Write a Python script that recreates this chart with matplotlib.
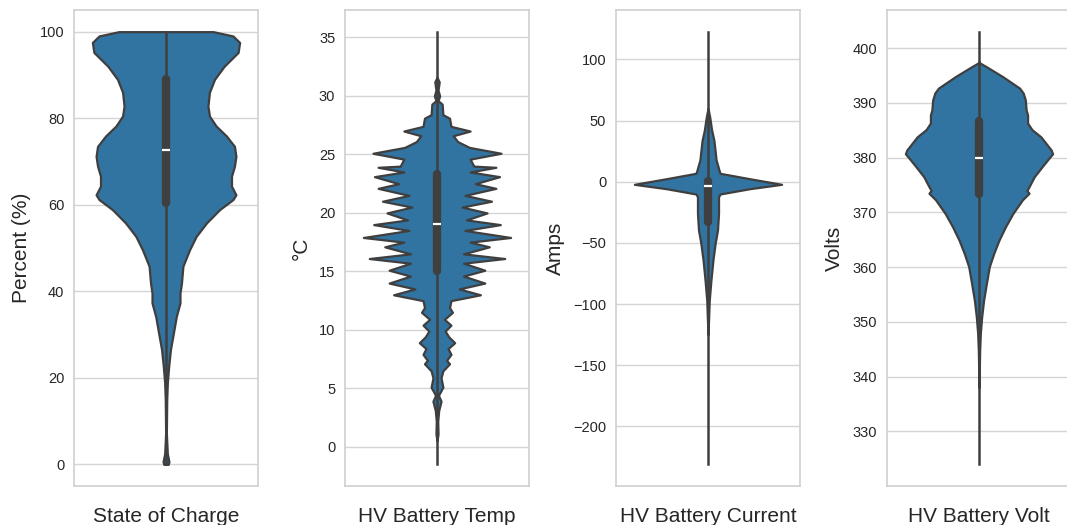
import numpy as np
import matplotlib
matplotlib.use("Agg")
import matplotlib.pyplot as plt

plt.rcParams['font.family'] = ['Liberation Sans', 'DejaVu Sans']

# panel names / axis labels
names = ["State of Charge", "HV Battery Temp", "HV Battery Current", "HV Battery Volt"]
ylabels = ["Percent (%)", "°C", "Amps", "Volts"]

# violin outlines: value, relative width (1 = widest)
soc_y = [100, 99, 97.5, 95.2, 92, 89, 86, 82.8, 80.5, 78.2, 75.9, 73.5, 71.2, 68.9,
         66.6, 64.3, 62.3, 61.2, 58.9, 55.8, 52.7, 49.6, 45.8, 41.9, 39.6, 37.3,
         34.2, 30.3, 26.5, 22.6, 18.8, 14.9, 7.2, 2.5, 0.6, 0]
soc_w = [0.64, 0.91, 1.0, 0.98, 0.79, 0.66, 0.59, 0.57, 0.59, 0.68, 0.82, 0.93, 0.95, 0.93,
         0.89, 0.89, 0.95, 0.91, 0.73, 0.55, 0.41, 0.32, 0.23, 0.21, 0.19, 0.19,
         0.14, 0.10, 0.06, 0.036, 0.018, 0.01, 0.005, 0.018, 0.04, 0.03]

temp_y = [31.6, 31.2, 30.5, 30.0, 29.6, 29.3, 28.4, 28.1, 27.4, 27.0, 26.6, 26.1, 25.6,
          25.1, 24.6, 24.0, 23.9, 23.5, 23.1, 22.5, 22.1, 21.5, 21.0, 20.5, 20.0,
          19.4, 19.0, 18.5, 17.9, 17.5, 17.1, 16.5, 16.1, 15.7, 15.1, 14.6, 14.0,
          13.5, 13.0, 12.5, 11.9, 11.5, 10.9, 10.4, 9.9, 9.4, 8.9, 8.4, 7.9, 7.4,
          7.1, 6.5, 5.9, 5.1, 4.4, 3.9, 3.1, 2.2, 1.1, 0.5]
temp_w = [0.0, 0.03, 0.014, 0.036, 0.014, 0.07, 0.08, 0.17, 0.19, 0.45, 0.22, 0.28, 0.44,
          0.87, 0.45, 0.50, 0.80, 0.45, 0.85, 0.52, 0.80, 0.38, 0.74, 0.34, 0.68,
          0.40, 0.86, 0.38, 1.0, 0.45, 0.71, 0.36, 0.92, 0.36, 0.65, 0.36, 0.65,
          0.30, 0.59, 0.19, 0.17, 0.21, 0.10, 0.19, 0.11, 0.16, 0.24, 0.15, 0.19, 0.13,
          0.17, 0.08, 0.055, 0.08, 0.02, 0.055, 0.023, 0.01, 0.014, 0.0]

cur_y = [60, 53, 42, 34, 26, 17.8, 13.7, 10, 6.9, 2.5, -2.1, -5.7, -10, -12.3, -25.9,
         -39.5, -50.4, -64, -80.4, -96.9, -110.5, -125]
cur_w = [0.0, 0.023, 0.05, 0.08, 0.095, 0.11, 0.13, 0.147, 0.164, 0.564, 1.0, 0.564,
         0.164, 0.143, 0.143, 0.129, 0.097, 0.067, 0.04, 0.017, 0.009, 0.0]

volt_y = [397.6, 397.3, 396.6, 394.8, 392.7, 391.8, 390.5, 388.7, 387.8, 386.3, 385.1,
          383.8, 382.6, 381.4, 380.7, 379.9, 378.4, 376.5, 374.7, 374.0, 373.5, 372.3,
          369.8, 367.4, 364.9, 362.5, 360.1, 357.0, 354.0, 350.9, 347.9, 344.8, 341.8, 338]
volt_w = [0.0, 0.01, 0.10, 0.32, 0.55, 0.60, 0.63, 0.64, 0.66, 0.66, 0.72,
          0.84, 0.91, 0.98, 1.0, 0.95, 0.86, 0.75, 0.68, 0.65, 0.68, 0.59,
          0.46, 0.36, 0.27, 0.20, 0.14, 0.10, 0.063, 0.036, 0.018, 0.009, 0.005, 0.0]

# box stats: whisker low, q1, median, q3, whisker high
soc_box = [0, 60.5, 72.7, 89, 100]
temp_box = [-1.5, 15.0, 19.05, 23.3, 35.5]
cur_box = [-231, -33, -3.5, 1, 122.7]
volt_box = [324, 373.3, 380, 386.6, 403]

profiles = [(soc_y, soc_w), (temp_y, temp_w), (cur_y, cur_w), (volt_y, volt_w)]
boxes = [soc_box, temp_box, cur_box, volt_box]
yticks = [np.arange(0, 101, 20), np.arange(0, 36, 5), np.arange(-200, 101, 50),
          np.arange(330, 401, 10)]

fill = "#3274a1"
dark = "#3f3f3f"

W, H = 1067, 525
fig = plt.figure(figsize=(W / 100, H / 100), dpi=100)

for i in range(4):
    left = 74 + 271 * i
    ax = fig.add_axes([left / W, 39 / H, 184 / W, 476 / H])
    y, w = profiles[i]
    y = np.array(y)
    w = np.array(w) * 0.4
    ax.fill_betweenx(y, -w, w, facecolor=fill, edgecolor=dark, linewidth=1.6,
                     joinstyle='round', zorder=2)

    lo, q1, med, q3, hi = boxes[i]
    ax.plot([0, 0], [lo, hi], color=dark, lw=1.8, zorder=3)
    ax.plot([0, 0], [q1, q3], color=dark, lw=6, solid_capstyle='round', zorder=4)
    ax.plot([0], [med], marker='_', ms=5.5, mew=1.6, color='white', zorder=5)

    pad = (hi - lo) * 0.05
    ax.set_ylim(lo - pad, hi + pad)
    ax.set_xlim(-0.5, 0.5)
    ax.set_yticks(yticks[i])
    ax.set_xticks([0])
    ax.set_xticklabels([names[i]], fontsize=15, color='#262626')
    ax.tick_params(axis='x', length=0, pad=15)
    ax.tick_params(axis='y', length=0, pad=7, labelsize=10.5, labelcolor='#262626')
    ax.set_ylabel(ylabels[i], fontsize=15, color='#262626', labelpad=6)
    ax.grid(axis='y', color='#d5d5d5', lw=1, zorder=0)
    ax.set_axisbelow(True)
    for s in ax.spines.values():
        s.set_color('#cfcfcf')
        s.set_linewidth(1.2)

fig.savefig("out.png", dpi=100)
